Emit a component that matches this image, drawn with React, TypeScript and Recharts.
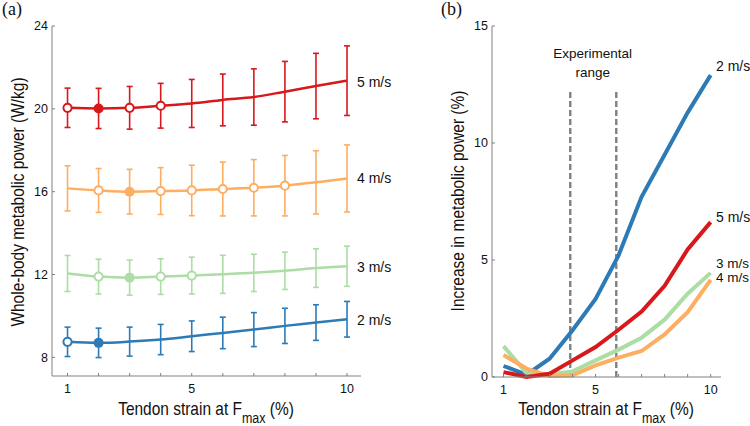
import React from 'react';
import { ComposedChart, Line, XAxis, YAxis, ErrorBar, ReferenceLine } from 'recharts';

// ---- data ----
const strain = [1, 2, 3, 4, 5, 6, 7, 8, 9, 10];
const strainTickLabels = [1, 5, 10];

// panel (a): whole-body metabolic power (W/kg)
const power5 = [20.05, 20.02, 20.05, 20.15, 20.26, 20.43, 20.57, 20.83, 21.1, 21.36];
const err5 = [0.95, 0.97, 1.03, 1.08, 1.16, 1.25, 1.36, 1.46, 1.58, 1.68];
const power4 = [16.16, 16.06, 16.0, 16.03, 16.06, 16.13, 16.19, 16.29, 16.45, 16.64];
const err4 = [1.09, 1.06, 1.08, 1.13, 1.22, 1.3, 1.36, 1.46, 1.53, 1.62];
const power3 = [12.05, 11.9, 11.85, 11.9, 11.95, 12.01, 12.08, 12.18, 12.31, 12.4];
const err3 = [0.87, 0.84, 0.85, 0.86, 0.89, 0.92, 0.9, 0.9, 0.93, 0.97];
const power2 = [8.75, 8.7, 8.76, 8.86, 9.02, 9.18, 9.34, 9.52, 9.68, 9.84];
const err2 = [0.71, 0.71, 0.7, 0.73, 0.74, 0.76, 0.82, 0.85, 0.86, 0.86];

type Mk = 'open' | 'filled' | null;
const markers5: Mk[] = ['open', 'filled', 'open', 'open', null, null, null, null, null, null];
const markers4: Mk[] = [null, 'open', 'filled', 'open', 'open', 'open', 'open', 'open', null, null];
const markers3: Mk[] = [null, 'open', 'filled', 'open', 'open', null, null, null, null, null];
const markers2: Mk[] = ['open', 'filled', null, null, null, null, null, null, null, null];

// panel (b): increase in metabolic power (%)
const increase2 = [0.47, 0.1, 0.78, 2.0, 3.34, 5.2, 7.7, 9.5, 11.3, 12.9];
const increase3 = [1.32, 0.17, 0.12, 0.24, 0.71, 1.17, 1.68, 2.45, 3.56, 4.45];
const increase4 = [0.94, 0.36, 0.04, 0.07, 0.5, 0.83, 1.11, 1.82, 2.77, 4.15];
const increase5 = [0.21, 0.0, 0.14, 0.71, 1.28, 2.02, 2.8, 3.9, 5.45, 6.62];
const experimentalRange = [3.9, 5.9];

const leftYTicks = [8, 12, 16, 20, 24];
const rightYTicks = [0, 5, 10, 15];

// ---- styles ----
const RED = '#d7191c';
const ORANGE = '#fdae61';
const GREEN = '#abdda4';
const BLUE = '#2c7bb6';
const AXIS = '#808080';
const FONT = '"Liberation Sans", Arial, Helvetica, sans-serif';

const leftData = strain.map((x, i) => ({
  x,
  p5: power5[i], e5: err5[i],
  p4: power4[i], e4: err4[i],
  p3: power3[i], e3: err3[i],
  p2: power2[i], e2: err2[i],
}));

const rightData = strain.map((x, i) => ({
  x,
  i2: increase2[i],
  i3: increase3[i],
  i4: increase4[i],
  i5: increase5[i],
}));

const makeDot = (markers: Mk[], color: string) => (props: any) => {
  const { cx, cy, index } = props;
  const m = markers[index];
  if (!m || cx == null || cy == null) return <g key={`d${index}`} />;
  if (m === 'filled') {
    return <circle key={`d${index}`} cx={cx} cy={cy} r={5} fill={color} stroke="none" />;
  }
  return <circle key={`d${index}`} cx={cx} cy={cy} r={4.1} fill="#fff" stroke={color} strokeWidth={2} />;
};

const tickStyle = { fontSize: 12.5, fill: '#111', fontFamily: FONT };
const xFmt = (v: number) => (strainTickLabels.includes(v) ? String(v) : '');

const XTitle = ({ cx }: { cx: number }) => (
  <text transform={`translate(${cx},415) scale(0.86,1)`} fontSize={18} textAnchor="middle">
    <tspan>Tendon strain at F</tspan>
    <tspan dy={8} fontSize={14.5}>max</tspan>
    <tspan dy={-8}> (%)</tspan>
  </text>
);

export default function App() {
  return (
    <div style={{ position: 'absolute', left: 0, top: 0, width: 750, height: 426, background: '#fff' }}>
      <div style={{ position: 'absolute', left: 0, top: 0 }}>
        <ComposedChart width={375} height={426} data={leftData} margin={{ top: 26, left: 50, right: 14, bottom: 48 }}>
          <XAxis
            dataKey="x"
            type="number"
            domain={[0.5, 10.45]}
            ticks={strain}
            tickFormatter={xFmt}
            height={2}
            stroke={AXIS}
            tickSize={-3}
            tickMargin={11}
            tick={tickStyle}
            interval={0}
          />
          <YAxis
            type="number"
            domain={[7.1, 24]}
            ticks={leftYTicks}
            width={2}
            stroke={AXIS}
            tickSize={-3}
            tickMargin={7}
            tick={tickStyle}
            interval={0}
          />
          <Line dataKey="p2" type="monotone" stroke={BLUE} strokeWidth={2.5} dot={makeDot(markers2, BLUE)} isAnimationActive={false}>
            <ErrorBar dataKey="e2" width={3} strokeWidth={1.6} stroke={BLUE} direction="y" />
          </Line>
          <Line dataKey="p3" type="monotone" stroke={GREEN} strokeWidth={2.5} dot={makeDot(markers3, GREEN)} isAnimationActive={false}>
            <ErrorBar dataKey="e3" width={3} strokeWidth={1.6} stroke={GREEN} direction="y" />
          </Line>
          <Line dataKey="p4" type="monotone" stroke={ORANGE} strokeWidth={2.5} dot={makeDot(markers4, ORANGE)} isAnimationActive={false}>
            <ErrorBar dataKey="e4" width={3} strokeWidth={1.6} stroke={ORANGE} direction="y" />
          </Line>
          <Line dataKey="p5" type="monotone" stroke={RED} strokeWidth={2.5} dot={makeDot(markers5, RED)} isAnimationActive={false}>
            <ErrorBar dataKey="e5" width={3} strokeWidth={1.6} stroke={RED} direction="y" />
          </Line>
        </ComposedChart>
      </div>
      <div style={{ position: 'absolute', left: 375, top: 0 }}>
        <ComposedChart width={375} height={426} data={rightData} margin={{ top: 26, left: 115, right: 29, bottom: 47 }}>
          <XAxis
            dataKey="x"
            type="number"
            domain={[0.5, 10.45]}
            ticks={strain}
            tickFormatter={xFmt}
            height={2}
            stroke={AXIS}
            tickSize={-3}
            tickMargin={11}
            tick={tickStyle}
            interval={0}
          />
          <YAxis
            type="number"
            domain={[0, 15]}
            ticks={rightYTicks}
            width={2}
            stroke={AXIS}
            tickSize={-3}
            tickMargin={7}
            tick={tickStyle}
            interval={0}
          />
          {experimentalRange.map((xv) => (
            <ReferenceLine
              key={xv}
              segment={[{ x: xv, y: 0 }, { x: xv, y: 12.3 }]}
              stroke={AXIS}
              strokeWidth={2.4}
              strokeDasharray="6 3"
            />
          ))}
          <Line dataKey="i2" type="linear" stroke={BLUE} strokeWidth={4} dot={false} isAnimationActive={false} />
          <Line dataKey="i3" type="linear" stroke={GREEN} strokeWidth={4} dot={false} isAnimationActive={false} />
          <Line dataKey="i4" type="linear" stroke={ORANGE} strokeWidth={4} dot={false} isAnimationActive={false} />
          <Line dataKey="i5" type="linear" stroke={RED} strokeWidth={4} dot={false} isAnimationActive={false} />
        </ComposedChart>
      </div>
      <svg width={750} height={426} style={{ position: 'absolute', left: 0, top: 0, pointerEvents: 'none' }}>
        <g fontFamily='"Liberation Serif", "Times New Roman", serif' fontSize={18} fill="#111">
          <text x={2} y={15}>(a)</text>
          <text x={441} y={15}>(b)</text>
        </g>
        <g fontFamily={FONT} fill="#111">
          <XTitle cx={206} />
          <XTitle cx={606} />
          <text transform="translate(23.5,202) rotate(-90) scale(0.86,1)" fontSize={18} textAnchor="middle">
            Whole-body metabolic power (W/kg)
          </text>
          <text transform="translate(463.5,201) rotate(-90) scale(0.86,1)" fontSize={18} textAnchor="middle">
            Increase in metabolic power (%)
          </text>
          <g fontSize={14}>
            <text x={357} y={87}>5 m/s</text>
            <text x={357} y={183}>4 m/s</text>
            <text x={357} y={272}>3 m/s</text>
            <text x={357} y={325}>2 m/s</text>
            <text x={716} y={71}>2 m/s</text>
            <text x={716} y={222}>5 m/s</text>
          </g>
          <g fontSize={13.5}>
            <text x={716} y={267.5}>3 m/s</text>
            <text x={716} y={282}>4 m/s</text>
          </g>
          <g fontSize={13.5} textAnchor="middle">
            <text x={592.7} y={57.5}>Experimental</text>
            <text x={592.7} y={76.5}>range</text>
          </g>
        </g>
      </svg>
    </div>
  );
}
